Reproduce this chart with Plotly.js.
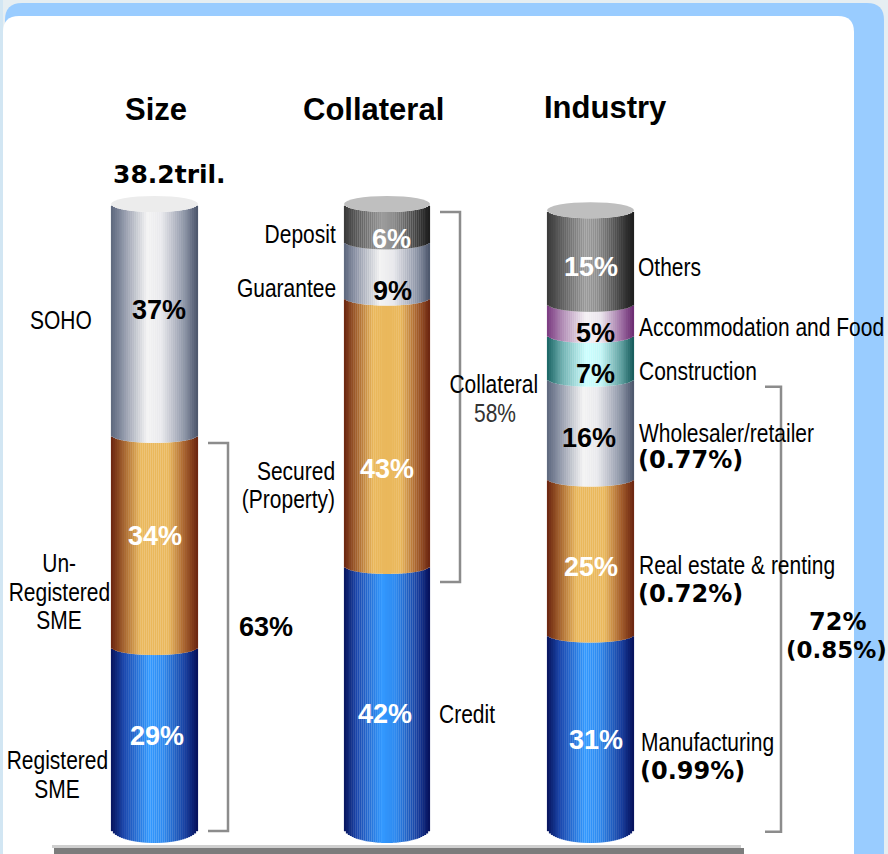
<!DOCTYPE html>
<html>
<head>
<meta charset="utf-8">
<script src="https://cdn.plot.ly/plotly-3.0.1.min.js"></script>
<style>html,body{margin:0;padding:0;background:#e6eef2;}#chart{width:888px;height:854px;}</style>
</head>
<body>
<div id="chart"></div>
<script>
// ---------------- DATA ----------------
const groupTitles = ['Size', 'Collateral', 'Industry'];
const totalLabel = '38.2tril.';

const sizeLabels = ['Registered SME', 'Un-Registered SME', 'SOHO'];
const sizeValues = [29, 34, 37];

const collLabels = ['Credit', 'Secured (Property)', 'Guarantee', 'Deposit'];
const collValues = [42, 43, 9, 6];

const indLabels = ['Manufacturing', 'Real estate & renting', 'Wholesaler/retailer', 'Construction', 'Accommodation and Food', 'Others'];
const indValues = [31, 25, 16, 7, 5, 15];
const indRates = ['(0.99%)', '(0.72%)', '(0.77%)'];

const sizeBracketLabel = '63%';
const collBracketLabel = ['Collateral', '58%'];
const indBracketLabel = ['72%', '(0.85%)'];

// ---------------- STYLE / GEOMETRY ----------------
const PX = 6.24;           // pixels per percentage point
const BOTTOM_PX = 828;     // pixel row of 0%
function Y(py) { return (BOTTOM_PX - py) / PX; }
const D = 8 / PX;          // ellipse depth of segment boundaries
const D2 = 7 / PX;         // extra depth of bottom curve
const N = 44;              // strips per cylinder (for shading)
const NARROW_SCALE = 0.84; // horizontal squeeze for the narrow label face

const grads = {
  gray:   [[0,'#5d677d'],[0.12,'#858da0'],[0.42,'#f3f3f3'],[0.58,'#e8e8ec'],[0.85,'#8a92a4'],[1,'#4a546a']],
  orange: [[0,'#6a2410'],[0.18,'#b07034'],[0.34,'#eab85c'],[0.66,'#eab85c'],[0.84,'#a8622c'],[1,'#6a2410']],
  blue:   [[0,'#08145c'],[0.15,'#1a46ac'],[0.44,'#3399ff'],[0.6,'#2e8af0'],[0.86,'#163c9c'],[1,'#060f58']],
  dark:   [[0,'#3a3a3a'],[0.45,'#9c9c9c'],[0.58,'#8e8e8e'],[0.86,'#3c3c3c'],[1,'#1c1c1c']],
  purple: [[0,'#7a3a80'],[0.18,'#b08ab4'],[0.45,'#f4f0f4'],[0.62,'#eae4ec'],[0.86,'#9a6aa0'],[1,'#6a2a70']],
  teal:   [[0,'#1a6464'],[0.18,'#6fb0b0'],[0.45,'#ccffff'],[0.62,'#c2f6f6'],[0.86,'#5a9c9c'],[1,'#145858']]
};
const textColor = {gray:'#000', purple:'#000', teal:'#000', orange:'#fff', blue:'#fff', dark:'#fff'};

// per-label pixel nudges (dx right, dy up) for the in-cylinder percentages
const cylinders = [
  {values: sizeValues, kinds: ['blue','orange','gray'], cx: 154.5, w: 87, cap: '#ececec',
   dx: [2, 0, 4], dy: [2, 5, 9]},
  {values: collValues, kinds: ['blue','orange','gray','dark'], cx: 387, w: 86, cap: '#bfbfbf',
   dx: [-2, 0, 5, 4], dy: [-17, -37, -21, -16]},
  {values: indValues, kinds: ['blue','orange','gray','teal','purple','dark'], cx: 590.5, w: 87, cap: '#bfbfbf',
   dx: [5, 0, -2, 5, 5, 0], dy: [-9, -10, -9, -17, -14, -10]}
];

function hex2rgb(h){ return [parseInt(h.slice(1,3),16), parseInt(h.slice(3,5),16), parseInt(h.slice(5,7),16)]; }
function gradColor(stops, t){
  for (let i = 1; i < stops.length; i++) {
    if (t <= stops[i][0]) {
      const a = stops[i-1], b = stops[i];
      const f = (t - a[0]) / (b[0] - a[0]);
      const ca = hex2rgb(a[1]), cb = hex2rgb(b[1]);
      return 'rgb(' + ca.map((v,k)=>Math.round(v + (cb[k]-v)*f)).join(',') + ')';
    }
  }
  return stops[stops.length-1][1];
}

const traces = [];
const shapes = [];
const annotations = [];
const narrowIdx = [];

// background frame
function roundTop(x0, x1, y0p, y1p, r){
  const y0 = Y(y0p), y1 = Y(y1p), ry = r / PX;
  return `M ${x0+r},${y0} L ${x1-r},${y0} Q ${x1},${y0} ${x1},${y0-ry} L ${x1},${y1} L ${x0},${y1} L ${x0},${y0-ry} Q ${x0},${y0} ${x0+r},${y0} Z`;
}
shapes.push({type:'rect', xref:'x', yref:'y', x0:0, x1:3, y0:Y(0), y1:Y(900), fillcolor:'#d2e6f3', line:{width:0}, layer:'below'});
shapes.push({type:'path', xref:'x', yref:'y', path: roundTop(5, 884, 3, 900, 17), fillcolor:'#99ccff', line:{width:0}, layer:'below'});
shapes.push({type:'path', xref:'x', yref:'y', path: roundTop(3, 854, 16, 900, 16), fillcolor:'#ffffff', line:{width:0}, layer:'below'});
// floor
shapes.push({type:'rect', xref:'x', yref:'y', x0:52, x1:741, y0:Y(845), y1:Y(848), fillcolor:'#cfcfcf', line:{width:0}, layer:'below'});
shapes.push({type:'rect', xref:'x', yref:'y', x0:54, x1:744, y0:Y(848), y1:Y(856), fillcolor:'#7c7c7c', line:{width:0}, layer:'below'});

// cylinders
cylinders.forEach(cyl => {
  const sw = cyl.w / N;
  const xs = [], ss = [], ts = [];
  for (let i = 0; i < N; i++) {
    const x = cyl.cx - cyl.w/2 + sw*(i+0.5);
    const u = (x - cyl.cx) / (cyl.w/2);
    xs.push(x); ss.push(Math.sqrt(Math.max(0, 1-u*u))); ts.push((i+0.5)/N);
  }
  let cum = 0;
  cyl.values.forEach((v, k) => {
    const kind = cyl.kinds[k];
    const base = ss.map(s => cum - D*s - (k === 0 ? D2*s : 0));
    const ys = ss.map(s => v + (k === 0 ? D2*s : 0));
    const cols = ts.map(t => gradColor(grads[kind], t));
    traces.push({type:'bar', x: xs, y: ys, base: base, width: sw*1.08,
      marker:{color: cols, line:{width:0}}, hoverinfo:'skip', showlegend:false});
    annotations.push({x: cyl.cx, y: cum + v/2, xref:'x', yref:'y', xshift: cyl.dx[k], yshift: cyl.dy[k], showarrow:false,
      text: '<b>' + v + '%</b>', font:{family:'Liberation Sans, Arial, sans-serif', size:27, color: textColor[kind]}});
    cum += v;
  });
  cyl.total = cum;
  shapes.push({type:'circle', xref:'x', yref:'y', x0: cyl.cx - cyl.w/2, x1: cyl.cx + cyl.w/2,
    y0: cum - D, y1: cum + D, fillcolor: cyl.cap, line:{width:0}, layer:'above'});
});

// brackets
const bc = '#8c8c8c';
function bracket(xa, xb, yTop, yBot){
  shapes.push({type:'path', xref:'x', yref:'y', path:`M ${xa},${yTop} L ${xb},${yTop} L ${xb},${yBot} L ${xa},${yBot}`,
    line:{color: bc, width:2.5}, layer:'above'});
}
bracket(208, 228, sizeValues[0] + sizeValues[1] - D, -0.5);
bracket(440, 460, cylinders[1].total - D, collValues[0] - 2*D);
bracket(765, 781, indValues[0] + indValues[1] + indValues[2] - D, -0.6);

// text helpers
const LSANS = 'Liberation Sans, Arial, sans-serif';
const BOLDW = 'DejaVu Sans, Verdana, sans-serif';
function txt(text, x, py, opts){
  opts = opts || {};
  const narrow = !opts.family;
  if (narrow) narrowIdx.push(annotations.length);
  annotations.push({x: x, y: Y(py), xref:'x', yref:'y', showarrow:false, text: text,
    xanchor: opts.xanchor || 'center', yanchor:'middle',
    font:{family: opts.family || LSANS, size: opts.size || 25, color: opts.color || '#000'}});
}

// titles
txt('<b>' + groupTitles[0] + '</b>', 156, 109, {family: LSANS, size:31});
txt('<b>' + groupTitles[1] + '</b>', 373.5, 109, {family: LSANS, size:31});
txt('<b>' + groupTitles[2] + '</b>', 605.5, 107, {family: LSANS, size:31});
txt('<b>' + totalLabel + '</b>', 169, 174, {family: BOLDW, size:25});

// Size labels
txt(sizeLabels[2], 61, 320);
txt('Un-', 59, 563); txt('Registered', 59, 592); txt('SME', 59, 620);
txt('Registered', 57, 760); txt('SME', 57, 789);
txt('<b>' + sizeBracketLabel + '</b>', 265.5, 627, {family: LSANS, size:27});

// Collateral labels
txt(collLabels[3], 338, 233.5, {xanchor:'right'});
txt(collLabels[2], 338, 288, {xanchor:'right'});
txt('Secured', 337, 471, {xanchor:'right'});
txt('(Property)', 337, 499, {xanchor:'right'});
txt(collLabels[0], 437, 714, {xanchor:'left'});
txt(collBracketLabel[0], 494, 384);
txt(collBracketLabel[1], 495, 413, {color:'#333'});

// Industry labels
txt(indLabels[5], 636, 267, {xanchor:'left'});
txt(indLabels[4], 637, 326.5, {xanchor:'left'});
txt(indLabels[3], 637, 370.5, {xanchor:'left'});
txt(indLabels[2], 637, 432.5, {xanchor:'left'});
txt('<b>' + indRates[2] + '</b>', 636, 460, {xanchor:'left', family: BOLDW, size:24});
txt(indLabels[1], 637, 565, {xanchor:'left'});
txt('<b>' + indRates[1] + '</b>', 636, 594, {xanchor:'left', family: BOLDW, size:24});
txt(indLabels[0], 639, 741.5, {xanchor:'left'});
txt('<b>' + indRates[0] + '</b>', 638, 771, {xanchor:'left', family: BOLDW, size:24});
txt('<b>' + indBracketLabel[0] + '</b>', 837.5, 622, {family: BOLDW, size:24});
txt('<b>' + indBracketLabel[1] + '</b>', 836, 650, {family: BOLDW, size:23});

const layout = {
  width: 888, height: 854,
  margin: {l:0, r:0, t:0, b:0},
  paper_bgcolor: '#e6eef2', plot_bgcolor: 'rgba(0,0,0,0)',
  barmode: 'overlay', showlegend: false,
  xaxis: {range: [0, 888], visible: false, fixedrange: true},
  yaxis: {range: [Y(854), Y(0)], visible: false, fixedrange: true},
  shapes: shapes, annotations: annotations
};

// squeeze the label face horizontally to imitate the narrow typeface of the original
function squeeze(){
  const set = new Set(narrowIdx);
  document.querySelectorAll('#chart g.annotation').forEach(g => {
    const idx = +g.getAttribute('data-index');
    if (!set.has(idx)) return;
    const t = g.querySelector('text.annotation-text');
    if (!t) return;
    const bb = t.getBBox();
    const anchor = annotations[idx].xanchor;
    const ox = anchor === 'left' ? bb.x : anchor === 'right' ? bb.x + bb.width : bb.x + bb.width/2;
    const prev = t.getAttribute('transform') || '';
    t.setAttribute('transform', `translate(${ox},0) scale(${NARROW_SCALE},1) translate(${-ox},0) ${prev}`);
  });
}
Plotly.newPlot('chart', traces, layout, {displayModeBar: false, staticPlot: true}).then(squeeze);
</script>
</body>
</html>
